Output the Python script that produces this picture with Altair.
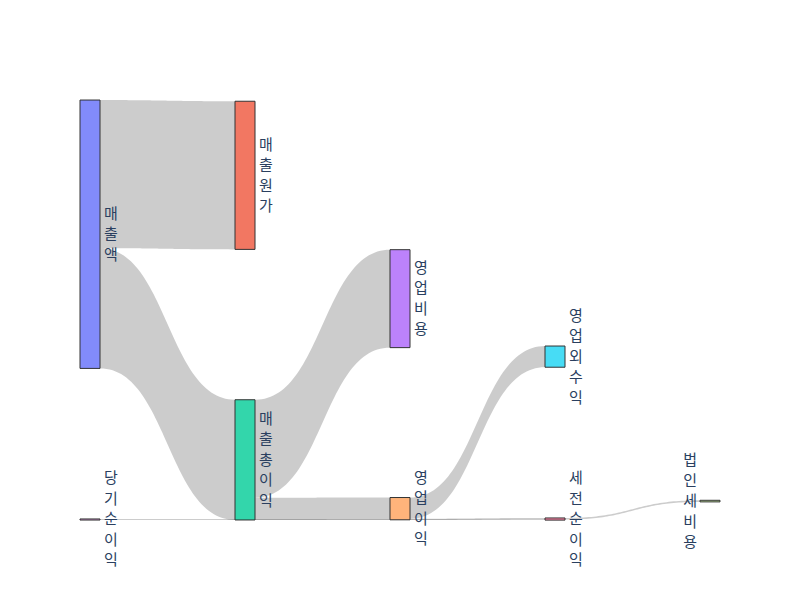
import altair as alt
import pandas as pd

# ---------------- data ----------------
node_names = ["매출액", "매출원가", "매출총이익", "영업비용", "영업이익",
              "영업외수익", "세전순이익", "법인세비용", "당기순이익"]
node_colors = ["#636efa", "#EF553B", "#00cc96", "#ab63fa", "#FFA15A",
               "#19d3f3", "#FF6692", "#B6E880", "#FF97FF"]

link_source = ["매출액", "매출액", "매출총이익", "매출총이익", "영업이익",
               "영업이익", "세전순이익", "당기순이익"]
link_target = ["매출원가", "매출총이익", "영업비용", "영업이익", "영업외수익",
               "세전순이익", "법인세비용", "세전순이익"]
link_value = [552, 448, 365, 83, 79, 4, 6, 4]

# ---------------- layout (fixed arrangement, like plotly node.x / node.y) ----------------
node_column = [0, 1, 1, 2, 2, 3, 3, 4, 0]
node_ycenter = [0.3196, 0.1793, 0.8568, 0.473, 0.973, 0.611, 0.9977, 0.955, 0.9988]
LAST_COL = 4
NODE_W = 20 / 155          # node thickness in column units
PLOT_H = 420               # plot height in px
Y_SPAN = 1565.0            # value units spanned by the plot height
LINE_H = 20.5              # label line spacing in px
N_SAMPLES = 60

col = dict(zip(node_names, node_column))
yc = dict(zip(node_names, node_ycenter))

inflow = {n: 0 for n in node_names}
outflow = {n: 0 for n in node_names}
for s, t, v in zip(link_source, link_target, link_value):
    outflow[s] += v
    inflow[t] += v
size = {n: max(inflow[n], outflow[n]) for n in node_names}
top = {n: yc[n] * Y_SPAN - size[n] / 2 for n in node_names}

# link attachment offsets (sorted like plotly: by the opposite node's position)
idx = list(range(len(link_value)))
src_y, tgt_y = {}, {}
for n in node_names:
    outs = sorted([i for i in idx if link_source[i] == n], key=lambda i: yc[link_target[i]])
    off = top[n]
    for i in outs:
        src_y[i] = off
        off += link_value[i]
    ins = sorted([i for i in idx if link_target[i] == n], key=lambda i: yc[link_source[i]])
    off = top[n]
    for i in ins:
        tgt_y[i] = off
        off += link_value[i]

link_rows = []
for i in idx:
    s, t, v = link_source[i], link_target[i], link_value[i]
    x0 = col[s] + NODE_W
    x1 = col[t]
    for k in range(N_SAMPLES + 1):
        u = k / N_SAMPLES
        fx = 1.5 * u - 1.5 * u ** 2 + u ** 3
        fy = 3 * u ** 2 - 2 * u ** 3
        yy = src_y[i] + (tgt_y[i] - src_y[i]) * fy
        link_rows.append({"link": f"L{i}", "x": x0 + (x1 - x0) * fx,
                          "ya": yy, "yb": yy + v})
links_df = pd.DataFrame(link_rows)

nodes_df = pd.DataFrame({
    "node": node_names,
    "x": [col[n] for n in node_names],
    "x2": [col[n] + NODE_W for n in node_names],
    "y": [top[n] for n in node_names],
    "y2": [top[n] + size[n] for n in node_names],
})

# vertical labels: one row per character, centred on the node
px_to_units = Y_SPAN / PLOT_H
label_rows = []
for n in node_names:
    chars = list(n)
    c = top[n] + size[n] / 2
    side = "left" if col[n] == LAST_COL else "right"
    for j, ch in enumerate(chars):
        label_rows.append({
            "ch": ch, "side": side,
            "x": col[n] if side == "left" else col[n] + NODE_W,
            "y": c + (j - (len(chars) - 1) / 2) * LINE_H * px_to_units,
        })
labels_df = pd.DataFrame(label_rows)

xs = alt.Scale(domain=[0, 4 + NODE_W], nice=False, zero=False)
ys = alt.Scale(domain=[0, Y_SPAN], nice=False, zero=False, reverse=True)

link_layers = []
for i in idx:
    link_layers.append(
        alt.Chart(links_df).transform_filter(alt.datum.link == f"L{i}").mark_area(
            orient="vertical", fill="#000000", fillOpacity=0.2, interpolate="linear"
        ).encode(
            x=alt.X("x:Q", scale=xs, axis=None),
            y=alt.Y("ya:Q", scale=ys, axis=None),
            y2="yb:Q",
        )
    )

node_layer = alt.Chart(nodes_df).mark_rect(
    fillOpacity=0.8, stroke="#333", strokeWidth=1
).encode(
    x=alt.X("x:Q", scale=xs, axis=None),
    x2="x2:Q",
    y=alt.Y("y:Q", scale=ys, axis=None),
    y2="y2:Q",
    color=alt.Color("node:N", scale=alt.Scale(domain=node_names, range=node_colors), legend=None),
)

text_style = dict(baseline="middle", font="Noto Sans CJK KR", fontSize=15, color="#2a3f5f")

label_right = alt.Chart(labels_df).transform_filter(alt.datum.side == "right").mark_text(
    align="left", dx=4, **text_style
).encode(
    x=alt.X("x:Q", scale=xs, axis=None),
    y=alt.Y("y:Q", scale=ys, axis=None),
    text="ch:N",
)

label_left = alt.Chart(labels_df).transform_filter(alt.datum.side == "left").mark_text(
    align="right", dx=-3, **text_style
).encode(
    x=alt.X("x:Q", scale=xs, axis=None),
    y=alt.Y("y:Q", scale=ys, axis=None),
    text="ch:N",
)

chart = alt.layer(*link_layers, node_layer, label_right, label_left).properties(
    width=640, height=420,
    padding={"left": 80, "top": 100, "right": 80, "bottom": 80},
    autosize=alt.AutoSizeParams(type="none"),
    background="white",
).configure_view(stroke=None)

chart.save("out.html", embed_options={"renderer": "svg", "actions": False})
